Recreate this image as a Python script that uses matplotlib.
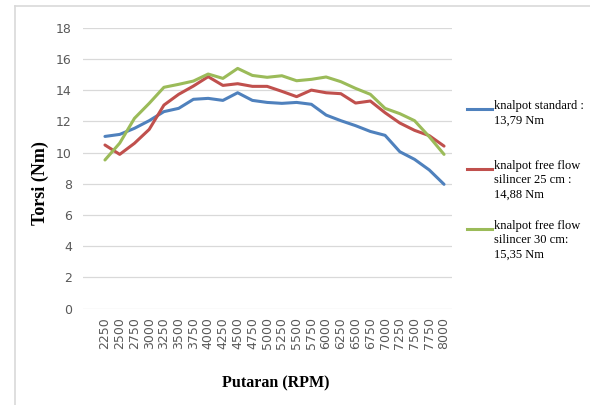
import matplotlib.pyplot as plt
from matplotlib.lines import Line2D

# data
rpm = ['2250', '2500', '2750', '3000', '3250', '3500', '3750', '4000',
       '4250', '4500', '4750', '5000', '5250', '5500', '5750', '6000',
       '6250', '6500', '6750', '7000', '7250', '7500', '7750', '8000']
standard = [11.03, 11.16, 11.55, 12.04, 12.62, 12.83, 13.41, 13.47,
            13.34, 13.83, 13.34, 13.21, 13.15, 13.21, 13.09, 12.40,
            12.04, 11.72, 11.35, 11.10, 10.05, 9.56, 8.88, 7.96]
freeflow_25 = [10.48, 9.88, 10.59, 11.48, 13.04, 13.73, 14.26, 14.86,
               14.30, 14.41, 14.24, 14.24, 13.92, 13.58, 14.00, 13.83,
               13.77, 13.17, 13.30, 12.55, 11.89, 11.42, 11.08, 10.41]
freeflow_30 = [9.52, 10.60, 12.19, 13.15, 14.18, 14.37, 14.58, 15.03,
               14.75, 15.39, 14.94, 14.82, 14.92, 14.60, 14.69, 14.84,
               14.54, 14.11, 13.73, 12.83, 12.49, 12.04, 11.01, 9.88]
labels = ['knalpot standard :\n13,79 Nm',
          'knalpot free flow\nsilincer 25 cm :\n14,88 Nm',
          'knalpot free flow\nsilincer 30 cm:\n15,35 Nm']
colors = ['#4F81BD', '#C0504D', '#9BBB59']

W, H = 590, 405
fig = plt.figure(figsize=(W / 100, H / 100), dpi=100)

# outer chart border (only top and left visible)
fig.add_artist(Line2D([15 / W, 1], [1 - 6 / H, 1 - 6 / H], color='#D9D9D9', lw=1.2))
fig.add_artist(Line2D([15 / W, 15 / W], [0, 1 - 6 / H], color='#D9D9D9', lw=1.2))

ax = fig.add_axes([83 / W, 1 - 308.5 / H, (452 - 83) / W, (308.5 - 27.7) / H])
x = list(range(len(rpm)))
for series, c in zip([standard, freeflow_25, freeflow_30], colors):
    ax.plot(x, series, color=c, lw=2.2, solid_capstyle='round')

ax.set_ylim(0, 18)
ax.set_xlim(-1.49, 23.54)
ax.set_yticks(range(0, 19, 2))
ax.set_xticks(x)
ax.set_xticklabels(rpm, rotation=90, color='#595959', fontsize=9)
ax.tick_params(axis='y', colors='#595959', labelsize=9, length=0, pad=8)
ax.tick_params(axis='x', length=0, pad=6)
ax.grid(axis='y', color='#D9D9D9', lw=0.9)
ax.set_axisbelow(True)
for s in ax.spines.values():
    s.set_visible(False)

fig.text(40 / W, 1 - 183 / H, 'Torsi (Nm)', rotation=90, ha='center', va='center',
         family='Liberation Serif', fontweight='bold', fontsize=13)
fig.text(276 / W, 1 - 383 / H, 'Putaran (RPM)', ha='center', va='center',
         family='Liberation Serif', fontweight='bold', fontsize=11.5)

# legend drawn by hand to match placement
legend_y = [109, 169, 229]
for lab, c, ly in zip(labels, colors, legend_y):
    fig.add_artist(Line2D([467 / W, 492 / W], [1 - ly / H, 1 - ly / H], color=c, lw=2.2))
    fig.text(494 / W, 1 - (ly - 9) / H, lab, ha='left', va='top',
             family='Liberation Serif', fontsize=9, linespacing=1.25)

fig.savefig('out.png', dpi=100)
